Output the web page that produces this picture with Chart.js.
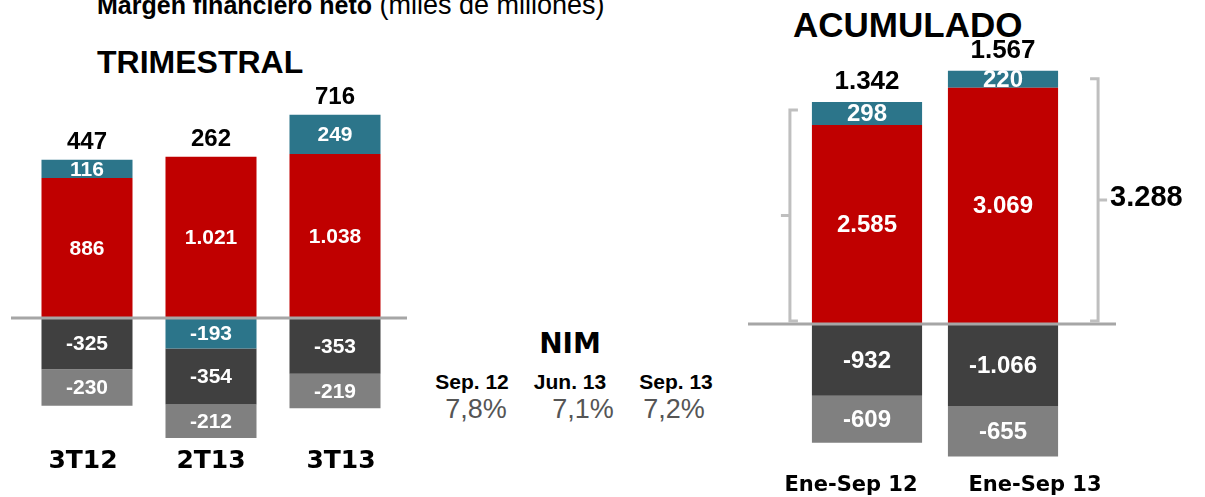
<!DOCTYPE html>
<html>
<head>
<meta charset="utf-8">
<script src="https://cdn.jsdelivr.net/npm/chart.js@4"></script>
<style>
    body { margin: 0; background: #fff; width: 1205px; height: 497px; overflow: hidden; position: relative; font-family: 'Liberation Sans', Arial, sans-serif; }
    canvas { position: absolute; top: 0; }
    #trimChart { left: 0; }
    #acumChart { left: 740px; }
    .txt { position: absolute; white-space: nowrap; line-height: 1; color: #000; }
    .c { transform: translate(-50%, -50%); }
</style>
</head>
<body>
<div class="txt" style="left:97px; top:-8px; font-size:25px;"><b>Margen financiero neto</b><span style="font-size:27px;"> (miles de millones)</span></div>
<div class="txt" style="left:97px; top:46px; font-size:32px; font-weight:bold;">TRIMESTRAL</div>
<div class="txt" style="left:793px; top:7px; font-size:35px; font-weight:bold;">ACUMULADO</div>
<div id="nim"></div>

<canvas id="trimChart" width="420" height="497"></canvas>
<canvas id="acumChart" width="465" height="497"></canvas>

<script>
const trimCategories = ['3T12', '2T13', '3T13'];
const trimRed = [886, 1021, 1038];
const trimTeal = [116, -193, 249];
const trimDark = [-325, -354, -353];
const trimGray = [-230, -212, -219];
const trimTotal = [447, 262, 716];

const acumCategories = ['Ene-Sep 12', 'Ene-Sep 13'];
const acumRed = [2585, 3069];
const acumTeal = [298, 220];
const acumDark = [-932, -1066];
const acumGray = [-609, -655];
const acumTotal = [1342, 1567];
const acumBracketLabel = 3288;

const nimPeriods = ['Sep. 12', 'Jun. 13', 'Sep. 13'];
const nimValues = ['7,8%', '7,1%', '7,2%'];

const colors = { red: '#C00000', teal: '#2C758A', dark: '#404040', gray: '#808080' };

// miles con punto: 1021 -> 1.021
function fmt(v) {
    const s = String(Math.abs(v)).replace(/\B(?=(\d{3})+(?!\d))/g, '.');
    return (v < 0 ? '-' : '') + s;
}

// NIM block
const nimPos = [[472, 476], [570, 583], [676, 674]];
let nimHtml = '<div class="txt c" style="left:570px; top:344px; font-size:28px; font-weight:bold; font-family:\'DejaVu Sans\';">NIM</div>';
nimPeriods.forEach((p, i) => {
    nimHtml += `<div class="txt c" style="left:${nimPos[i][0]}px; top:381px; font-size:21px; font-weight:bold;">${p}</div>`;
    nimHtml += `<div class="txt c" style="left:${nimPos[i][1]}px; top:409px; font-size:27px; color:#555;">${nimValues[i]}</div>`;
});
document.getElementById('nim').innerHTML = nimHtml;

const barLabels = {
    id: 'barLabels',
    afterDatasetsDraw(chart, args, opts) {
        const ctx = chart.ctx;
        const x = chart.scales.x, y = chart.scales.y;
        ctx.save();
        // zero line
        const y0 = y.getPixelForValue(0);
        ctx.strokeStyle = '#A6A6A6';
        ctx.lineWidth = 3;
        ctx.beginPath();
        ctx.moveTo(chart.chartArea.left - opts.lineLeft, y0);
        ctx.lineTo(chart.chartArea.right + opts.lineRight, y0);
        ctx.stroke();

        ctx.textAlign = 'center';
        ctx.textBaseline = 'middle';
        ctx.fillStyle = '#fff';
        ctx.font = `bold ${opts.segSize}px "Liberation Sans", Arial`;
        chart.data.datasets.forEach((ds, di) => {
            chart.getDatasetMeta(di).data.forEach((el, i) => {
                ctx.fillText(fmt(ds.data[i]), el.x, (el.y + el.base) / 2 + 1);
            });
        });

        // totals and category labels
        const n = chart.data.labels.length;
        for (let i = 0; i < n; i++) {
            let pos = 0;
            chart.data.datasets.forEach(ds => { if (ds.data[i] > 0) pos += ds.data[i]; });
            const cx = x.getPixelForValue(i);
            ctx.fillStyle = '#000';
            ctx.font = `bold ${opts.totalSize}px "Liberation Sans", Arial`;
            ctx.fillText(fmt(opts.totals[i]), cx, y.getPixelForValue(pos) - opts.totalGap);
            ctx.font = `bold ${opts.catSize}px "DejaVu Sans"`;
            ctx.fillText(chart.data.labels[i], cx + opts.catShift[i], opts.catY);
        }

        // bracket around the positive stacks
        if (opts.bracket) {
            const b = opts.bracket;
            ctx.strokeStyle = '#BFBFBF';
            ctx.lineWidth = 3;
            const draw = (i, side) => {
                const el = chart.getDatasetMeta(0).data[i];
                let pos = 0;
                chart.data.datasets.forEach(ds => { if (ds.data[i] > 0) pos += ds.data[i]; });
                const top = y.getPixelForValue(pos) + b.inset;
                const bot = y0 - 3;
                const bx = side < 0 ? el.x - el.width / 2 - b.left : el.x + el.width / 2 + b.right;
                const mid = (top + bot) / 2;
                ctx.beginPath();
                ctx.moveTo(bx - side * 8, top);
                ctx.lineTo(bx, top);
                ctx.lineTo(bx, bot);
                ctx.lineTo(bx - side * 8, bot);
                ctx.moveTo(bx, mid);
                ctx.lineTo(bx + side * 9, mid);
                ctx.stroke();
                return { bx, mid };
            };
            draw(0, -1);
            const r = draw(n - 1, 1);
            ctx.fillStyle = '#000';
            ctx.textAlign = 'left';
            ctx.font = `bold ${b.size}px "Liberation Sans", Arial`;
            ctx.fillText(fmt(b.label), r.bx + 12, r.mid - 2);
        }
        ctx.restore();
    }
};

function makeChart(id, labels, red, teal, dark, gray, yMin, yMax, padding, barPct, labelOpts) {
    const series = [
        { data: red, backgroundColor: colors.red },
        { data: teal, backgroundColor: colors.teal },
        { data: dark, backgroundColor: colors.dark },
        { data: gray, backgroundColor: colors.gray }
    ];
    return new Chart(document.getElementById(id).getContext('2d'), {
        type: 'bar',
        data: {
            labels: labels,
            datasets: series.map(s => ({
                data: s.data,
                backgroundColor: s.backgroundColor,
                borderWidth: 0,
                barPercentage: barPct,
                categoryPercentage: 1
            }))
        },
        options: {
            responsive: false,
            animation: false,
            devicePixelRatio: 1,
            layout: { padding: padding },
            plugins: {
                legend: { display: false },
                tooltip: { enabled: false },
                barLabels: labelOpts
            },
            scales: {
                x: { stacked: true, display: false },
                y: { stacked: true, display: false, min: yMin, max: yMax }
            }
        },
        plugins: [barLabels]
    });
}

makeChart('trimChart', trimCategories, trimRed, trimTeal, trimDark, trimGray,
    -804, 1380, { left: 25, right: 23, top: 100, bottom: 52 }, 0.734,
    { totals: trimTotal, segSize: 21, totalSize: 24, totalGap: 17, catSize: 25, catY: 461, catShift: [-4, 0, 6],
      lineLeft: 14, lineRight: 10 });

makeChart('acumChart', acumCategories, acumRed, acumTeal, acumDark, acumGray,
    -1766, 3429, { left: 59, right: 134, top: 60, bottom: 37 }, 0.81,
    { totals: acumTotal, segSize: 24, totalSize: 26, totalGap: 20, catSize: 21, catY: 486, catShift: [-16, 32],
      lineLeft: 51, lineRight: 45,
      bracket: { label: acumBracketLabel, inset: 8, left: 22, right: 40, size: 29 } });
</script>
</body>
</html>
